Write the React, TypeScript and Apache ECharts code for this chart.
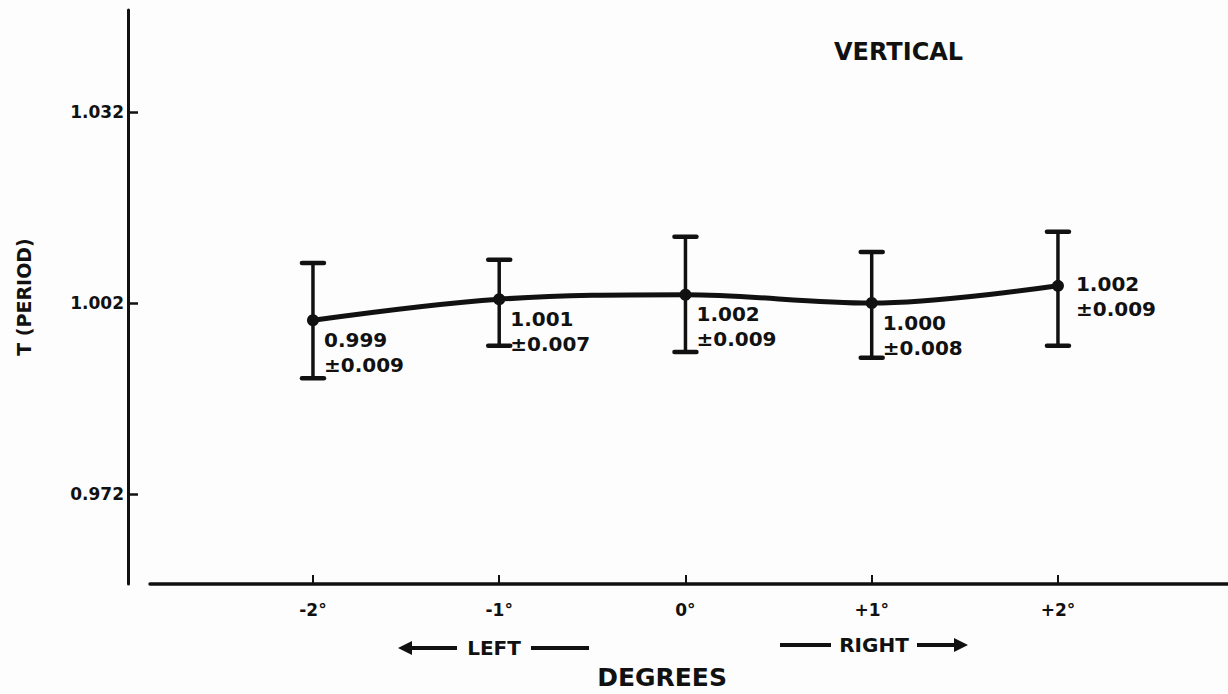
import React, { useEffect, useRef } from "react";
import * as echarts from "echarts";

// ---- data ----
const xValues = [-2, -1, 0, 1, 2];
const xTickLabels = ["-2°", "-1°", "0°", "+1°", "+2°"];
const yTickValues = [0.972, 1.002, 1.032];
const periodMeans = [0.9993, 1.0026, 1.0033, 1.002, 1.0047];
const errLow = [0.9902, 0.9953, 0.9943, 0.9934, 0.9953];
const errHigh = [1.0083, 1.0088, 1.0124, 1.01, 1.0132];
const labelValue = ["0.999", "1.001", "1.002", "1.000", "1.002"];
const labelError = ["±0.009", "±0.007", "±0.009", "±0.008", "±0.009"];
const labelSide = ["below", "below", "below", "below", "right"];

const FONT = "DejaVu Sans";

export default function App() {
  const ref = useRef<HTMLDivElement>(null);
  useEffect(() => {
    if (!ref.current) return;
    const chart = echarts.init(ref.current, undefined, { renderer: "svg" });
    const lineData = xValues.map((x, i) => [x, periodMeans[i]]);
    const errData = xValues.map((x, i) => [x, errLow[i], errHigh[i], periodMeans[i], i]);

    const option: any = {
      animation: false,
      backgroundColor: "#fdfdfd",
      grid: { left: 150, right: 0, top: 10, bottom: 110 },
      xAxis: {
        type: "value",
        min: -2.875,
        max: 2.913,
        axisLine: { show: true, onZero: false, lineStyle: { color: "#111", width: 3.5 } },
        axisTick: { show: true, inside: true, length: 9, customValues: xValues, lineStyle: { color: "#111", width: 2 } },
        axisLabel: {
          customValues: xValues,
          formatter: (v: number) => xTickLabels[xValues.indexOf(Math.round(v))] ?? "",
          color: "#111",
          fontFamily: FONT,
          fontWeight: "bold",
          fontSize: 17,
          margin: 17,
        },
        splitLine: { show: false },
      },
      yAxis: {
        type: "value",
        min: 0.95787,
        max: 1.04802,
        offset: 22,
        name: "T (PERIOD)",
        nameLocation: "middle",
        nameRotate: 90,
        nameGap: 95,
        nameTextStyle: { color: "#111", fontFamily: FONT, fontWeight: "bold", fontSize: 19 },
        axisLine: { show: true, onZero: false, lineStyle: { color: "#111", width: 3 } },
        axisTick: { show: true, inside: true, length: 10, customValues: yTickValues, lineStyle: { color: "#111", width: 2.5 } },
        axisLabel: {
          customValues: yTickValues,
          formatter: (v: number) => v.toFixed(3),
          color: "#111",
          fontFamily: FONT,
          fontWeight: "bold",
          fontSize: 17,
          margin: 4,
        },
        splitLine: { show: false },
      },
      graphic: [
        {
          type: "text",
          left: 834,
          top: 40,
          style: { text: "VERTICAL", fill: "#111", font: `bold 24px '${FONT}'` },
        },
        {
          type: "text",
          x: 662,
          y: 677,
          style: { text: "DEGREES", fill: "#111", font: `bold 25px '${FONT}'`, align: "center", verticalAlign: "middle" },
        },
        // LEFT arrow
        { type: "polygon", shape: { points: [[398, 648], [412, 641], [412, 655]] }, style: { fill: "#111" } },
        { type: "line", shape: { x1: 408, y1: 648, x2: 457, y2: 648 }, style: { stroke: "#111", lineWidth: 4 } },
        {
          type: "text",
          x: 494,
          y: 648,
          style: { text: "LEFT", fill: "#111", font: `bold 20px '${FONT}'`, align: "center", verticalAlign: "middle" },
        },
        { type: "line", shape: { x1: 531, y1: 648, x2: 589, y2: 648 }, style: { stroke: "#111", lineWidth: 4 } },
        // RIGHT arrow
        { type: "line", shape: { x1: 780, y1: 645, x2: 831, y2: 645 }, style: { stroke: "#111", lineWidth: 4 } },
        {
          type: "text",
          x: 874,
          y: 645,
          style: { text: "RIGHT", fill: "#111", font: `bold 20px '${FONT}'`, align: "center", verticalAlign: "middle" },
        },
        { type: "line", shape: { x1: 917, y1: 645, x2: 958, y2: 645 }, style: { stroke: "#111", lineWidth: 4 } },
        { type: "polygon", shape: { points: [[968, 645], [954, 638], [954, 652]] }, style: { fill: "#111" } },
      ],
      series: [
        {
          type: "line",
          data: lineData,
          smooth: 0.35,
          symbol: "circle",
          symbolSize: 12,
          lineStyle: { color: "#111", width: 5 },
          itemStyle: { color: "#111" },
          z: 3,
        },
        {
          type: "custom",
          data: errData,
          z: 2,
          renderItem: (params: any, api: any) => {
            const x = api.value(0);
            const lo = api.coord([x, api.value(1)]);
            const hi = api.coord([x, api.value(2)]);
            const pt = api.coord([x, api.value(3)]);
            const idx = api.value(4);
            const cap = 11;
            const style = { stroke: "#111", lineWidth: 3.5 };
            const side = labelSide[idx];
            const textStyle = {
              text: labelValue[idx] + "\n" + labelError[idx],
              fill: "#111",
              font: `bold 20px '${FONT}'`,
              lineHeight: 25,
            };
            const textEl =
              side === "right"
                ? { type: "text", x: pt[0] + 18, y: pt[1] + 11, style: { ...textStyle, verticalAlign: "middle" } }
                : { type: "text", x: pt[0] + 11, y: pt[1] + 7, style: { ...textStyle, verticalAlign: "top" } };
            return {
              type: "group",
              children: [
                { type: "line", shape: { x1: lo[0], y1: lo[1], x2: hi[0], y2: hi[1] }, style },
                { type: "line", shape: { x1: hi[0] - cap, y1: hi[1], x2: hi[0] + cap, y2: hi[1] }, style: { ...style, lineWidth: 4.5, lineCap: "round" } },
                { type: "line", shape: { x1: lo[0] - cap, y1: lo[1], x2: lo[0] + cap, y2: lo[1] }, style: { ...style, lineWidth: 4.5, lineCap: "round" } },
                textEl,
              ],
            };
          },
        },
      ],
    };
    chart.setOption(option);
    return () => chart.dispose();
  }, []);
  return (
    <div
      ref={ref}
      style={{ position: "absolute", left: 0, top: 0, width: 1228, height: 694 }}
    />
  );
}
